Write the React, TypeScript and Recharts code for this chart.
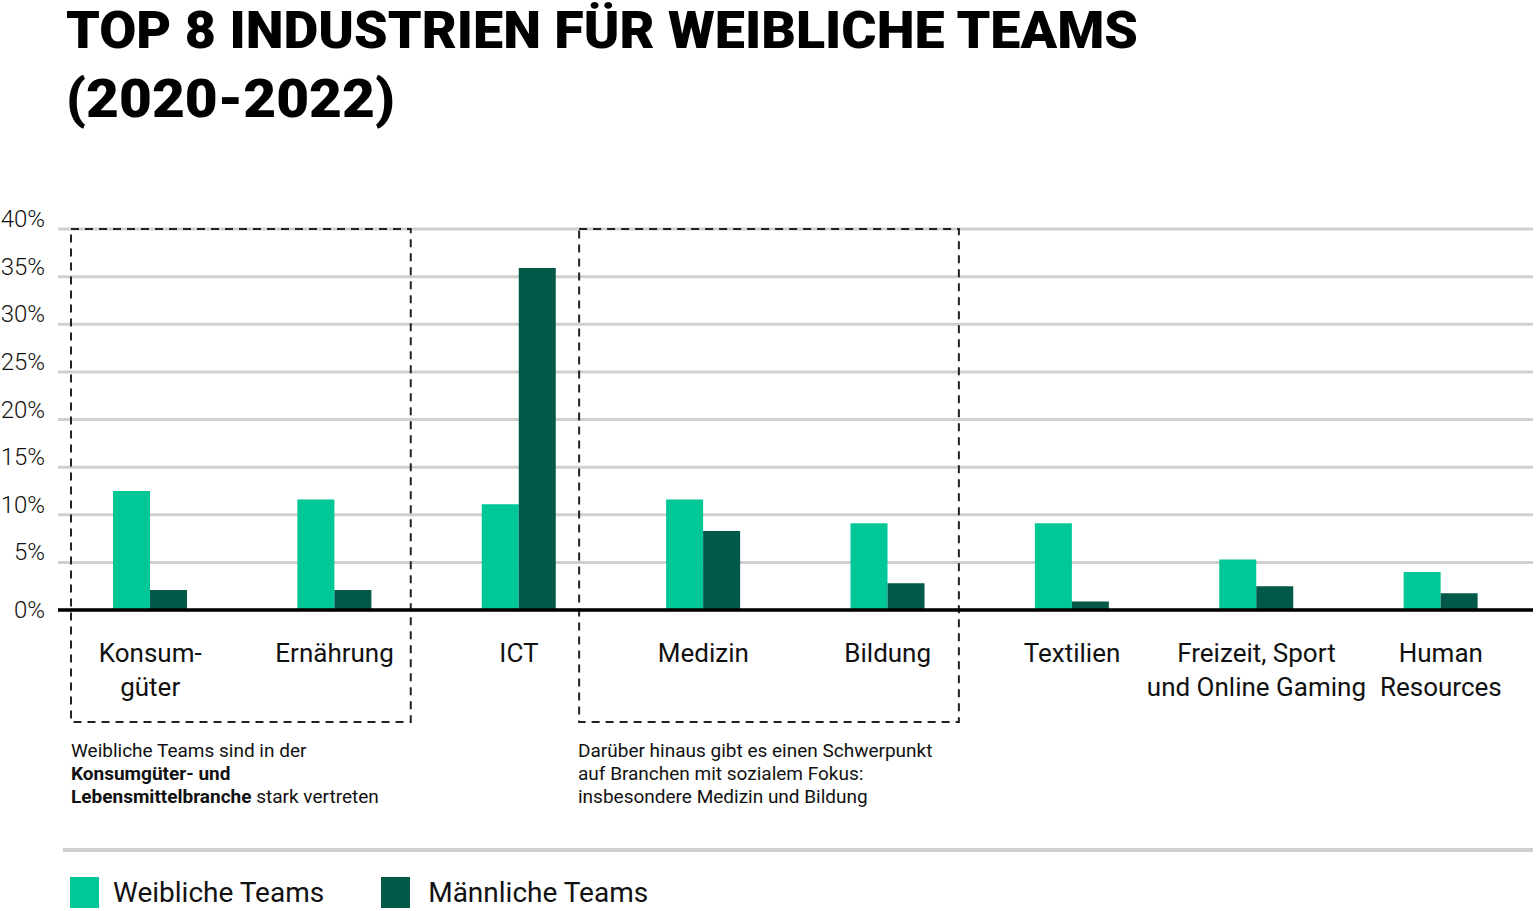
import { BarChart, Bar, XAxis, YAxis, CartesianGrid, ReferenceArea } from 'recharts';

const categories = [
  'Konsum-\ngüter',
  'Ernährung',
  'ICT',
  'Medizin',
  'Bildung',
  'Textilien',
  'Freizeit, Sport\nund Online Gaming',
  'Human\nResources',
];
const weiblicheTeams = [12.5, 11.6, 11.1, 11.6, 9.1, 9.1, 5.3, 4.0];
const maennlicheTeams = [2.1, 2.1, 35.9, 8.3, 2.8, 0.9, 2.5, 1.75];
const yTicks = [0, 5, 10, 15, 20, 25, 30, 35, 40];

const GREEN = '#00c796';
const DARK = '#02594a';
const FONT = 'Roboto, "Noto Sans", sans-serif';

const data = categories.map((name, i) => ({
  name,
  weiblich: weiblicheTeams[i],
  maennlich: maennlicheTeams[i],
}));

const XTick = (props: any) => {
  const { x, y, payload } = props;
  const lines = String(payload.value).split('\n');
  return (
    <g>
      {lines.map((line, i) => (
        <text
          key={i}
          x={x}
          y={y + 43 + i * 34}
          textAnchor="middle"
          dominantBaseline="central"
          fontFamily={FONT}
          fontSize={26}
          fill="#111"
        >
          {line}
        </text>
      ))}
    </g>
  );
};

const YTick = (props: any) => {
  const { x, y, payload } = props;
  return (
    <text
      x={x}
      y={payload.value === 0 ? y : y - 10}
      textAnchor="end"
      dominantBaseline="central"
      fontFamily={FONT}
      fontWeight={300}
      fontSize={24}
      fill="#111"
    >
      {payload.value}%
    </text>
  );
};

// dashed box that reaches down below the axis labels
const DashedBox = (props: any) => {
  const { x, y, width, height, left = 12, right = 12 } = props;
  return (
    <rect
      x={x + left}
      y={y}
      width={width - left - right}
      height={height + 112}
      fill="none"
      stroke="#222"
      strokeWidth={2}
      strokeDasharray="8 6"
    />
  );
};

const App = () => {
  return (
    <div
      style={{
        position: 'absolute',
        left: 0,
        top: 0,
        width: 1536,
        height: 911,
        background: '#fff',
        fontFamily: FONT,
        color: '#111',
      }}
    >
      <svg width={1536} height={140} style={{ position: 'absolute', left: 0, top: 0 }}>
        <text
          x={66}
          y={48}
          fontFamily={FONT}
          fontWeight={900}
          fontSize={51}
          textLength={1072}
          lengthAdjust="spacingAndGlyphs"
          fill="#000"
        >
          TOP 8 INDUSTRIEN FÜR WEIBLICHE TEAMS
        </text>
        <text
          x={66}
          y={117}
          fontFamily={FONT}
          fontWeight={900}
          fontSize={53}
          textLength={329}
          lengthAdjust="spacingAndGlyphs"
          fill="#000"
        >
          (2020-2022)
        </text>
      </svg>

      <div style={{ position: 'absolute', left: 0, top: 0 }}>
        <BarChart
          width={1536}
          height={911}
          data={data}
          barSize={37}
          barGap={0}
          margin={{ top: 229, right: 3, bottom: 201, left: 0 }}
        >
          <CartesianGrid vertical={false} stroke="#cfcfcf" strokeWidth={3} />
          <ReferenceArea
            x1={categories[0]}
            x2={categories[1]}
            y1={0}
            y2={40}
            ifOverflow="visible"
            shape={<DashedBox left={13} right={16} />}
          />
          <ReferenceArea
            x1={categories[3]}
            x2={categories[4]}
            y1={0}
            y2={40}
            ifOverflow="visible"
            shape={<DashedBox left={-32} right={21} />}
          />
          <XAxis
            dataKey="name"
            height={100}
            interval={0}
            tickLine={false}
            tickSize={0}
            tickMargin={0}
            axisLine={{ stroke: '#000', strokeWidth: 3.5 }}
            tick={<XTick />}
          />
          <YAxis
            width={58}
            domain={[0, 40]}
            ticks={yTicks}
            interval={0}
            axisLine={false}
            tickLine={false}
            tickSize={0}
            tickMargin={13}
            tick={<YTick />}
          />
          <Bar dataKey="weiblich" name="Weibliche Teams" fill={GREEN} isAnimationActive={false} />
          <Bar dataKey="maennlich" name="Männliche Teams" fill={DARK} isAnimationActive={false} />
        </BarChart>
      </div>

      <div style={{ position: 'absolute', left: 71, top: 739, fontSize: 19, lineHeight: '23px' }}>
        Weibliche Teams sind in der
        <br />
        <b>Konsumgüter- und</b>
        <br />
        <b>Lebensmittelbranche</b> stark vertreten
      </div>
      <div style={{ position: 'absolute', left: 578, top: 739, fontSize: 19, lineHeight: '23px' }}>
        Darüber hinaus gibt es einen Schwerpunkt
        <br />
        auf Branchen mit sozialem Fokus:
        <br />
        insbesondere Medizin und Bildung
      </div>

      <div
        style={{
          position: 'absolute',
          left: 63,
          top: 848,
          width: 1470,
          height: 4,
          background: '#cfcfcf',
        }}
      />

      <div style={{ position: 'absolute', left: 70, top: 877, display: 'flex', alignItems: 'center' }}>
        <div style={{ width: 29, height: 31, background: GREEN }} />
        <span style={{ marginLeft: 14, fontSize: 28, lineHeight: '31px' }}>Weibliche Teams</span>
        <div style={{ width: 29, height: 31, background: DARK, marginLeft: 57 }} />
        <span style={{ marginLeft: 18, fontSize: 28, lineHeight: '31px' }}>Männliche Teams</span>
      </div>
    </div>
  );
};

export default App;
